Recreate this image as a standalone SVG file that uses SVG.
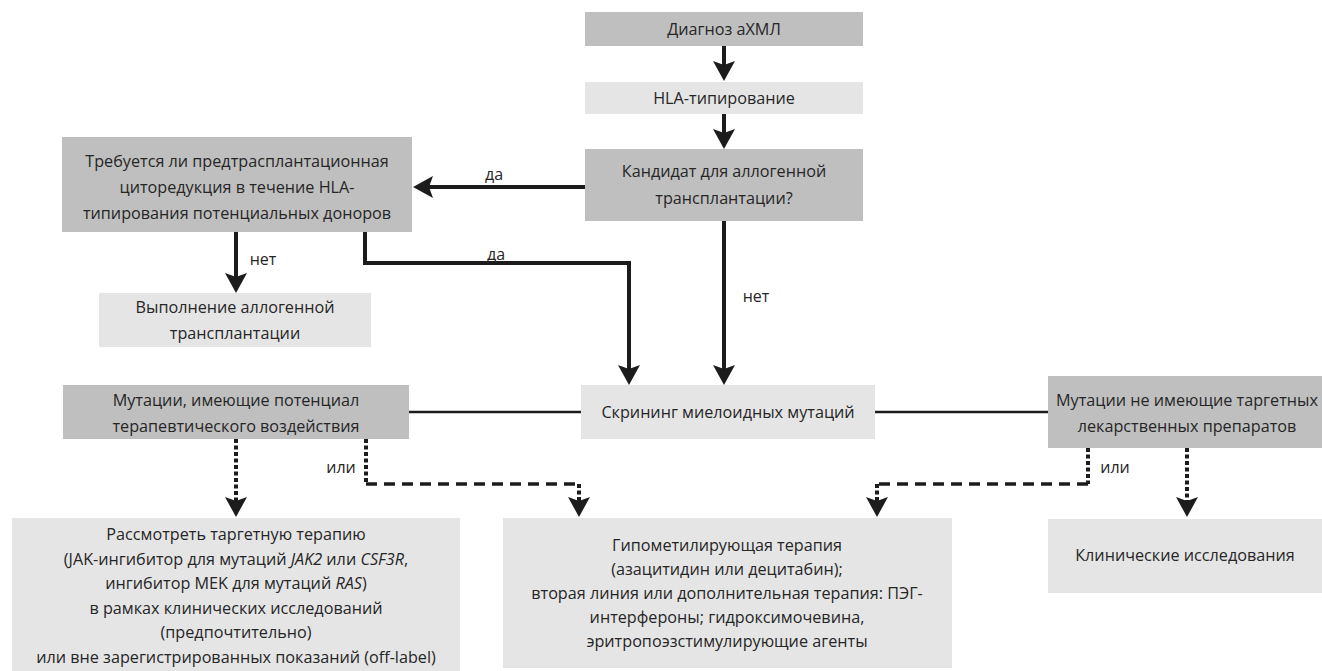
<svg xmlns="http://www.w3.org/2000/svg" width="1322" height="671" viewBox="0 0 1322 671">
<style>
.dark{fill:#bfbfbf}
.light{fill:#e5e5e5}
text{font-family:"Open Sans","Noto Sans",sans-serif;font-size:16.2px;fill:#262626;text-anchor:middle;dominant-baseline:central}
.lbl{font-size:16px}
.solid{stroke:#1c1c1c;stroke-width:4;fill:none}
.thin{stroke:#1c1c1c;stroke-width:2.5;fill:none}
.dot{stroke:#1c1c1c;stroke-width:4;fill:none;stroke-dasharray:4 2.5}
.dash{stroke:#1c1c1c;stroke-width:3.5;fill:none;stroke-dasharray:11 7}
</style>
<defs>
<marker id="ah" viewBox="0 0 20 24" refX="8" refY="12" markerWidth="20" markerHeight="24" markerUnits="userSpaceOnUse" orient="auto">
<path d="M20,12 L0,1 L4,12 L0,23 Z" fill="#1c1c1c"/>
</marker>
</defs>
<rect width="1322" height="671" fill="#ffffff"/>
<g id="connectors">
<line class="solid" x1="724" y1="46" x2="724" y2="69" marker-end="url(#ah)"/>
<line class="solid" x1="724" y1="114" x2="724" y2="137" marker-end="url(#ah)"/>
<line class="solid" x1="585" y1="187" x2="425" y2="187" marker-end="url(#ah)"/>
<text class="lbl" x="494" y="174">да</text>
<line class="solid" x1="236" y1="232" x2="236" y2="281" marker-end="url(#ah)"/>
<text class="lbl" x="263" y="259">нет</text>
<path class="solid" d="M365,232 V263 H629 V373" marker-end="url(#ah)"/>
<text class="lbl" x="496" y="254">да</text>
<line class="solid" x1="724" y1="221" x2="724" y2="373" marker-end="url(#ah)"/>
<text class="lbl" x="756" y="296">нет</text>
<line class="thin" x1="409" y1="412" x2="581" y2="412"/>
<line class="thin" x1="875" y1="412" x2="1048" y2="412"/>
<line class="dot" x1="236" y1="439" x2="236" y2="505" marker-end="url(#ah)"/>
<line class="dot" x1="366" y1="439" x2="366" y2="484"/>
<line class="dash" x1="366" y1="484" x2="579" y2="484"/>
<line class="dot" x1="579" y1="484" x2="579" y2="505" marker-end="url(#ah)"/>
<text class="lbl" x="341" y="467">или</text>
<line class="dot" x1="1088" y1="448" x2="1088" y2="484"/>
<line class="dash" x1="1088" y1="484" x2="877" y2="484"/>
<line class="dot" x1="877" y1="484" x2="877" y2="505" marker-end="url(#ah)"/>
<text class="lbl" x="1115" y="467">или</text>
<line class="dot" x1="1187" y1="448" x2="1187" y2="505" marker-end="url(#ah)"/>
</g>
<g id="n_diag">
<rect class="dark" x="585" y="12" width="278" height="34"/>
<text x="724" y="29">Диагноз аХМЛ</text>
</g>
<g id="n_hla">
<rect class="light" x="585" y="82" width="278" height="32"/>
<text x="724" y="98">HLA-типирование</text>
</g>
<g id="n_cand">
<rect class="dark" x="585" y="149" width="278" height="72"/>
<text x="724" y="171">Кандидат для аллогенной</text>
<text x="724" y="198">трансплантации?</text>
</g>
<g id="n_cyto">
<rect class="dark" x="62" y="137" width="350" height="95"/>
<text x="237" y="161">Требуется ли предтрасплантационная</text>
<text x="237" y="187">циторедукция в течение HLA-</text>
<text x="237" y="213">типирования потенциальных доноров</text>
</g>
<g id="n_allo">
<rect class="light" x="99" y="293" width="272" height="54"/>
<text x="235" y="307">Выполнение аллогенной</text>
<text x="235" y="333">трансплантации</text>
</g>
<g id="n_screen">
<rect class="light" x="581" y="385" width="294" height="54"/>
<text x="728" y="412">Скрининг миелоидных мутаций</text>
</g>
<g id="n_mutpot">
<rect class="dark" x="63" y="385" width="346" height="54"/>
<text x="236" y="400">Мутации, имеющие потенциал</text>
<text x="236" y="426">терапевтического воздействия</text>
</g>
<g id="n_mutno">
<rect class="dark" x="1048" y="376" width="274" height="72"/>
<text x="1187" y="400">Мутации не имеющие таргетных</text>
<text x="1187" y="426">лекарственных препаратов</text>
</g>
<g id="n_target">
<rect class="light" x="12" y="518" width="448" height="153"/>
<text x="236" y="534">Рассмотреть таргетную терапию</text>
<text x="236" y="558.5">(JAK-ингибитор для мутаций <tspan font-style="italic">JAK2</tspan> или <tspan font-style="italic">CSF3R</tspan>,</text>
<text x="236" y="583">ингибитор MEK для мутаций <tspan font-style="italic">RAS</tspan>)</text>
<text x="236" y="607.5">в рамках клинических исследований</text>
<text x="236" y="632">(предпочтительно)</text>
<text x="236" y="656.5">или вне зарегистрированных показаний (off-label)</text>
</g>
<g id="n_hypo">
<rect class="light" x="503" y="518" width="449" height="150"/>
<text x="727" y="545">Гипометилирующая терапия</text>
<text x="727" y="569">(азацитидин или децитабин);</text>
<text x="727" y="593">вторая линия или дополнительная терапия: ПЭГ-</text>
<text x="727" y="617">интерфероны; гидроксимочевина,</text>
<text x="727" y="641">эритропоэзстимулирующие агенты</text>
</g>
<g id="n_clin">
<rect class="light" x="1048" y="519" width="274" height="74"/>
<text x="1185" y="555">Клинические исследования</text>
</g>
</svg>
